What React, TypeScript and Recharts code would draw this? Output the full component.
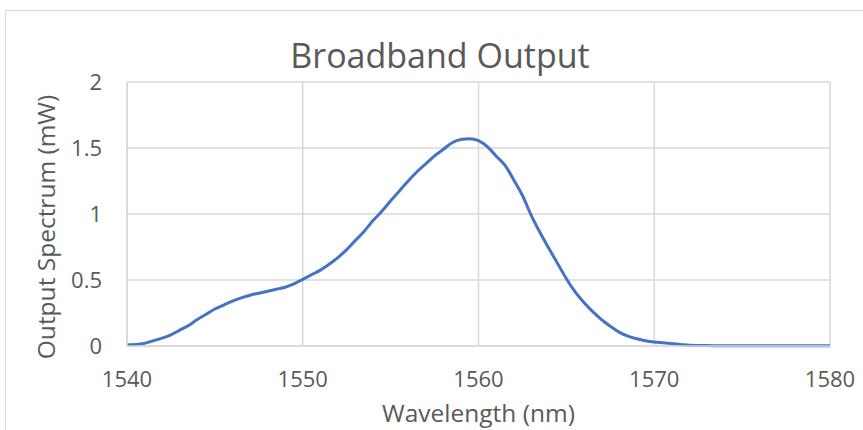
import React from "react";
import { LineChart, Line, XAxis, YAxis, CartesianGrid, Label } from "recharts";

const wavelengths: number[] = [
  1540, 1540.5, 1541, 1541.5, 1542, 1542.5, 1543, 1543.5, 1544, 1544.5,
  1545, 1545.5, 1546, 1546.5, 1547, 1547.5, 1548, 1548.5, 1549, 1549.5,
  1550, 1550.5, 1551, 1551.5, 1552, 1552.5, 1553, 1553.5, 1554, 1554.5,
  1555, 1555.5, 1556, 1556.5, 1557, 1557.5, 1558, 1558.5, 1559, 1559.5,
  1560, 1560.5, 1561, 1561.5, 1562, 1562.5, 1563, 1563.5, 1564, 1564.5,
  1565, 1565.5, 1566, 1566.5, 1567, 1567.5, 1568, 1568.5, 1569, 1569.5,
  1570, 1570.5, 1571, 1571.5, 1572, 1573, 1574, 1575, 1576, 1577, 1578, 1579, 1580,
];

const outputMw: number[] = [
  0.01, 0.012, 0.02, 0.04, 0.06, 0.085, 0.12, 0.155, 0.2, 0.24,
  0.28, 0.31, 0.34, 0.365, 0.385, 0.4, 0.415, 0.43, 0.445, 0.47,
  0.505, 0.54, 0.575, 0.62, 0.67, 0.73, 0.8, 0.87, 0.95, 1.02,
  1.1, 1.175, 1.25, 1.32, 1.38, 1.44, 1.49, 1.54, 1.565, 1.57,
  1.555, 1.51, 1.44, 1.37, 1.26, 1.14, 0.99, 0.86, 0.74, 0.625,
  0.51, 0.41, 0.33, 0.26, 0.2, 0.15, 0.105, 0.075, 0.055, 0.04,
  0.03, 0.024, 0.018, 0.012, 0.005, 0.003, 0.002, 0.002, 0.002, 0.002, 0.002, 0.002, 0.002,
];

const xTicks: number[] = [1540, 1550, 1560, 1570, 1580];
const yTicks: number[] = [0, 0.5, 1, 1.5, 2];

const chartTitle = "Broadband Output";
const xTitle = "Wavelength (nm)";
const yTitle = "Output Spectrum (mW)";

const data = wavelengths.map((w, i) => ({ w, v: outputMw[i] }));

const FONT = "'Open Sans', sans-serif";
const GRAY = "#595959";
const GRID = "#d9d9d9";

export default function App() {
  return (
    <div
      style={{
        position: "absolute",
        left: 0,
        top: 0,
        width: 863,
        height: 430,
        background: "#fff",
        overflow: "hidden",
        fontFamily: FONT,
      }}
    >
      <div
        style={{
          position: "absolute",
          left: 5,
          top: 10,
          width: 900,
          height: 500,
          border: `1.5px solid ${GRID}`,
          boxSizing: "border-box",
        }}
      />
      <div
        style={{
          position: "absolute",
          left: 0,
          top: 34,
          width: 880,
          textAlign: "center",
          fontSize: 34,
          color: GRAY,
          lineHeight: "42px",
          fontFamily: FONT,
        }}
      >
        {chartTitle}
      </div>
      <div style={{ position: "absolute", left: 0, top: 0 }}>
        <LineChart
          width={863}
          height={430}
          data={data}
          margin={{ top: 82, right: 33, bottom: 0, left: 0 }}
        >
          <CartesianGrid stroke={GRID} strokeWidth={1.5} />
          <XAxis
            dataKey="w"
            type="number"
            domain={[1540, 1580]}
            ticks={xTicks}
            height={84}
            tickLine={false}
            tickSize={0}
            tickMargin={25}
            axisLine={{ stroke: GRID, strokeWidth: 1.5 }}
            tick={{ fill: GRAY, fontSize: 22, fontFamily: FONT }}
            allowDataOverflow
          >
            <Label
              value={xTitle}
              content={({ viewBox }: any) => (
                <text
                  x={viewBox.x + viewBox.width / 2}
                  y={422}
                  textAnchor="middle"
                  fill={GRAY}
                  fontSize={24.5}
                  fontFamily={FONT}
                >
                  {xTitle}
                </text>
              )}
            />
          </XAxis>
          <YAxis
            type="number"
            domain={[0, 2]}
            ticks={yTicks}
            width={127}
            tickLine={false}
            tickSize={0}
            tickMargin={25}
            axisLine={{ stroke: GRID, strokeWidth: 1.5 }}
            tick={{ fill: GRAY, fontSize: 22, fontFamily: FONT }}
          >
            <Label
              value={yTitle}
              content={() => (
                <text
                  x={45}
                  y={227}
                  transform="rotate(-90 45 227)"
                  textAnchor="middle"
                  dominantBaseline="central"
                  fill={GRAY}
                  fontSize={24.5}
                  fontFamily={FONT}
                >
                  {yTitle}
                </text>
              )}
            />
          </YAxis>
          <Line
            type="monotone"
            dataKey="v"
            stroke="#4472C4"
            strokeWidth={3}
            dot={false}
            isAnimationActive={false}
          />
        </LineChart>
      </div>
    </div>
  );
}
